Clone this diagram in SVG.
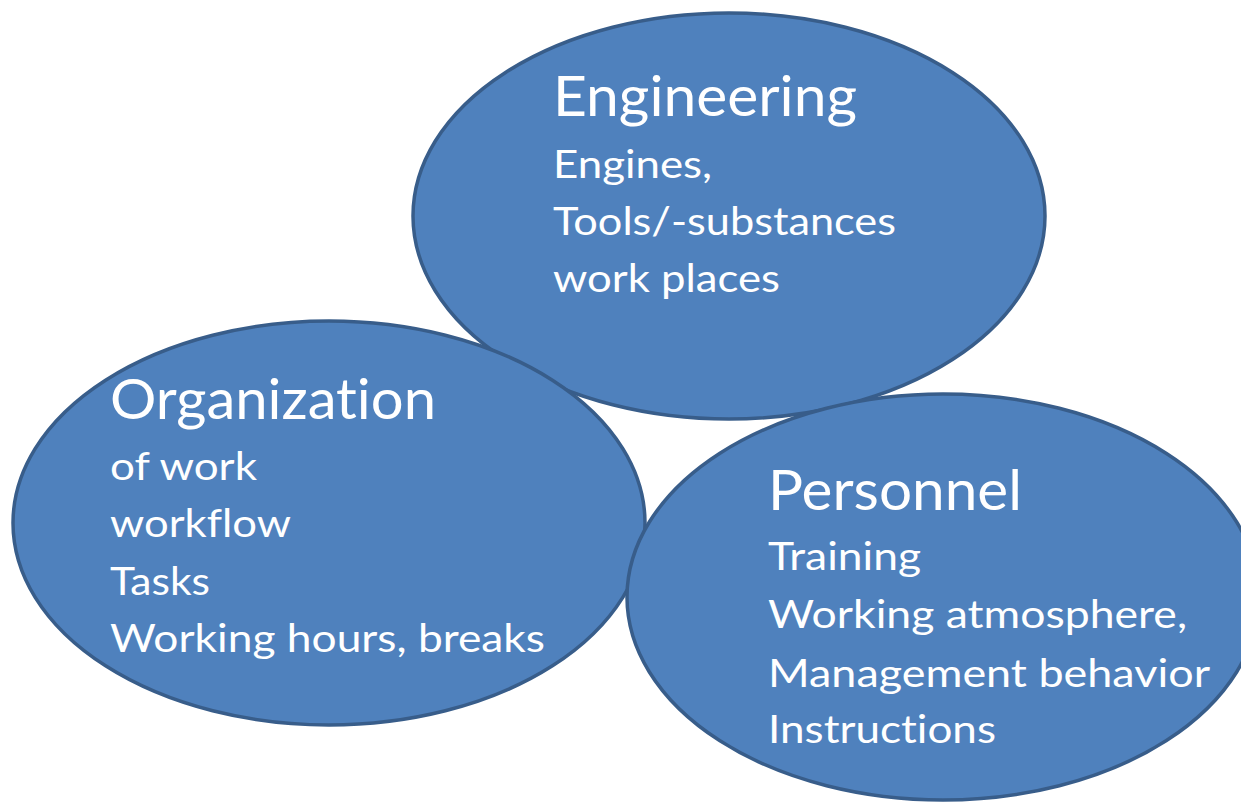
<svg xmlns="http://www.w3.org/2000/svg" width="1241" height="803" viewBox="0 0 1241 803">
<style>
.bubble{fill:#4F81BD;stroke:#385D8A;stroke-width:3.5}
.t{font-family:Lato,"Open Sans","Liberation Sans",sans-serif;fill:#FFFFFF;font-variant-ligatures:none;font-feature-settings:"liga" 0,"dlig" 0}
.h{font-size:56px}
.s{font-size:39px}
</style>
<rect width="1241" height="803" fill="#FFFFFF"/>
<g id="engineering">
<ellipse class="bubble" cx="729" cy="216" rx="316" ry="203"/>
<text class="t h" x="553" y="116" textLength="304" lengthAdjust="spacingAndGlyphs">Engineering</text>
<text class="t s" x="553" y="178" textLength="159" lengthAdjust="spacingAndGlyphs">Engines,</text>
<text class="t s" x="553" y="235" textLength="343" lengthAdjust="spacingAndGlyphs">Tools/-substances</text>
<text class="t s" x="553" y="292" textLength="227" lengthAdjust="spacingAndGlyphs">work places</text>
</g>
<g id="organization">
<ellipse class="bubble" cx="329" cy="523" rx="316" ry="202"/>
<text class="t h" x="110" y="419" textLength="326" lengthAdjust="spacingAndGlyphs">Organization</text>
<text class="t s" x="110" y="480" textLength="147" lengthAdjust="spacingAndGlyphs">of work</text>
<text class="t s" x="110" y="537" textLength="181" lengthAdjust="spacingAndGlyphs">workflow</text>
<text class="t s" x="110" y="595" textLength="100" lengthAdjust="spacingAndGlyphs">Tasks</text>
<text class="t s" x="110" y="652" textLength="435" lengthAdjust="spacingAndGlyphs">Working hours, breaks</text>
</g>
<g id="personnel">
<ellipse class="bubble" cx="943" cy="597" rx="316" ry="203"/>
<text class="t h" x="768" y="510" textLength="254" lengthAdjust="spacingAndGlyphs">Personnel</text>
<text class="t s" x="768" y="570" textLength="153" lengthAdjust="spacingAndGlyphs">Training</text>
<text class="t s" x="768" y="628" textLength="419" lengthAdjust="spacingAndGlyphs">Working atmosphere,</text>
<text class="t s" x="768" y="687" textLength="442" lengthAdjust="spacingAndGlyphs">Management behavior</text>
<text class="t s" x="768" y="743" textLength="228" lengthAdjust="spacingAndGlyphs">Instructions</text>
</g>
<g id="connectors"/>
</svg>
